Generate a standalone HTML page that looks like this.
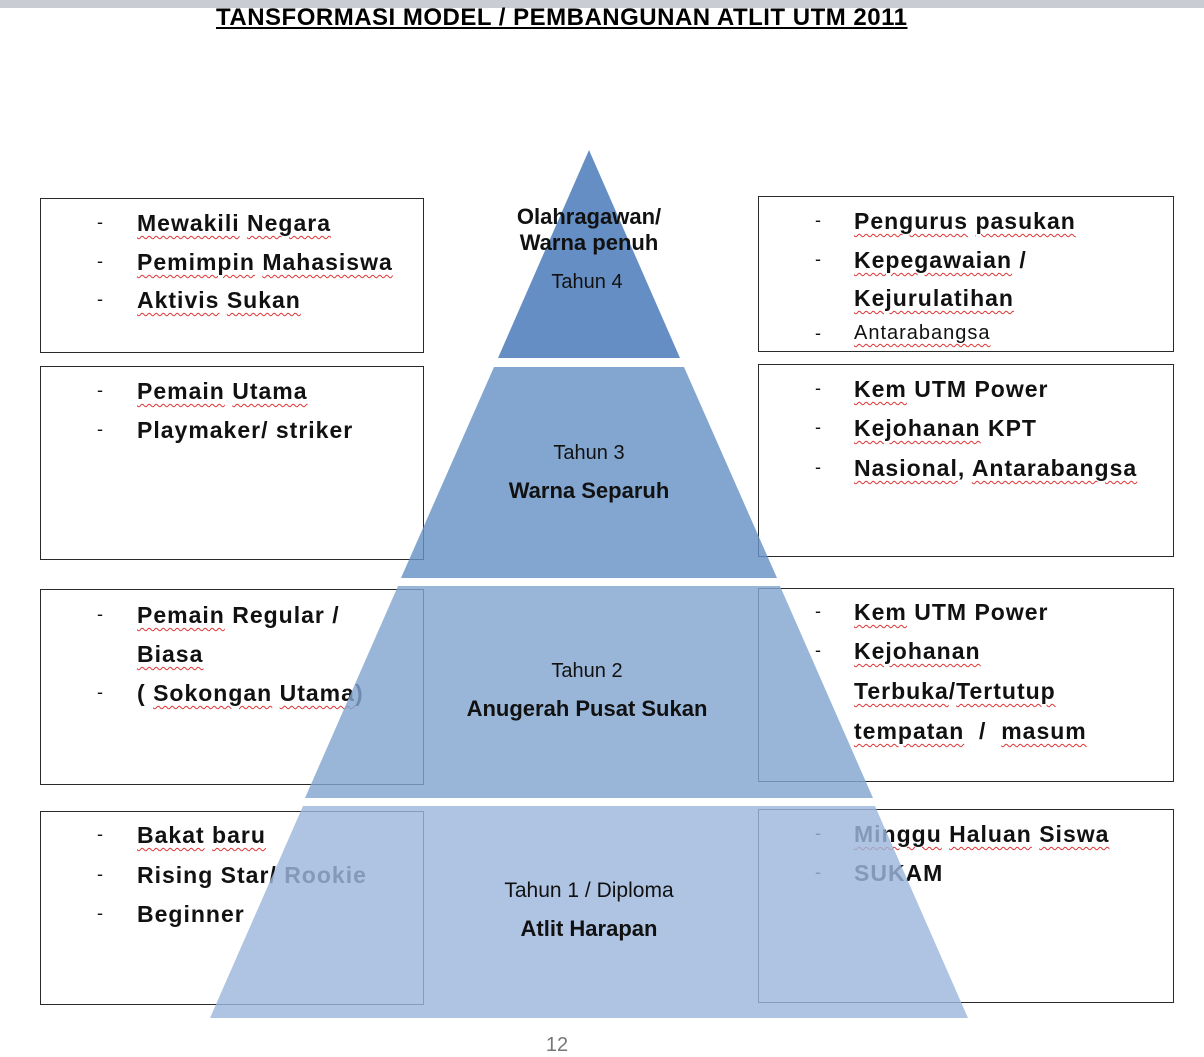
<!DOCTYPE html>
<html><head><style>
body{margin:0;width:1204px;height:1057px;background:#fff;position:relative;overflow:hidden;font-family:"Liberation Sans",sans-serif}
.bar{position:absolute;left:0;top:0;width:1204px;height:8px;background:#c9ccd2}
.title{position:absolute;left:216px;top:4px;font-size:24px;font-weight:bold;text-decoration:underline;letter-spacing:0.5px;line-height:28px}
.box{position:absolute;border:1.5px solid #2a2a2a;box-sizing:border-box}
.t{position:absolute;font-size:23px;letter-spacing:1px;font-weight:bold;white-space:nowrap;color:#111}
.t u{text-decoration:underline wavy #d33;text-decoration-thickness:1px;text-underline-offset:4px}
.d{position:absolute;font-size:18px;color:#111}
svg{position:absolute;left:0;top:0}
.c{position:absolute;text-align:center;width:400px;color:#111;white-space:nowrap}
</style></head><body>
<div class="bar"></div>
<div class="title">TANSFORMASI MODEL / PEMBANGUNAN ATLIT UTM 2011</div>

<div class="box" style="left:40px;top:198px;width:384px;height:155px"></div>
<div class="box" style="left:40px;top:366px;width:384px;height:194px"></div>
<div class="box" style="left:40px;top:589px;width:384px;height:196px"></div>
<div class="box" style="left:40px;top:811px;width:384px;height:194px"></div>
<div class="box" style="left:758px;top:196px;width:416px;height:156px"></div>
<div class="box" style="left:758px;top:364px;width:416px;height:193px"></div>
<div class="box" style="left:758px;top:588px;width:416px;height:194px"></div>
<div class="box" style="left:758px;top:809px;width:416px;height:194px"></div>

<div class="d" style="left:97px;top:212px">-</div><div class="t" style="left:137px;top:210px"><u>Mewakili</u> <u>Negara</u></div>
<div class="d" style="left:97px;top:251px">-</div><div class="t" style="left:137px;top:249px"><u>Pemimpin</u> <u>Mahasiswa</u></div>
<div class="d" style="left:97px;top:289px">-</div><div class="t" style="left:137px;top:287px"><u>Aktivis</u> <u>Sukan</u></div>
<div class="d" style="left:97px;top:380px">-</div><div class="t" style="left:137px;top:378px"><u>Pemain</u> <u>Utama</u></div>
<div class="d" style="left:97px;top:419px">-</div><div class="t" style="left:137px;top:417px">Playmaker/ striker</div>
<div class="d" style="left:97px;top:604px">-</div><div class="t" style="left:137px;top:602px"><u>Pemain</u> Regular /</div>
<div class="t" style="left:137px;top:641px"><u>Biasa</u></div>
<div class="d" style="left:97px;top:682px">-</div><div class="t" style="left:137px;top:680px">( <u>Sokongan</u> <u>Utama</u>)</div>
<div class="d" style="left:97px;top:824px">-</div><div class="t" style="left:137px;top:822px"><u>Bakat</u> <u>baru</u></div>
<div class="d" style="left:97px;top:864px">-</div><div class="t" style="left:137px;top:862px">Rising Star/ Rookie</div>
<div class="d" style="left:97px;top:903px">-</div><div class="t" style="left:137px;top:901px">Beginner</div>

<div class="d" style="left:815px;top:210px">-</div><div class="t" style="left:854px;top:208px"><u>Pengurus</u> <u>pasukan</u></div>
<div class="d" style="left:815px;top:249px">-</div><div class="t" style="left:854px;top:247px"><u>Kepegawaian</u> /</div>
<div class="t" style="left:854px;top:285px"><u>Kejurulatihan</u></div>
<div class="d" style="left:815px;top:323px">-</div><div class="t" style="left:854px;top:322px;font-weight:normal;font-size:20px"><u>Antarabangsa</u></div>
<div class="d" style="left:815px;top:378px">-</div><div class="t" style="left:854px;top:376px"><u>Kem</u> UTM Power</div>
<div class="d" style="left:815px;top:417px">-</div><div class="t" style="left:854px;top:415px"><u>Kejohanan</u> KPT</div>
<div class="d" style="left:815px;top:457px">-</div><div class="t" style="left:854px;top:455px"><u>Nasional</u>, <u>Antarabangsa</u></div>
<div class="d" style="left:815px;top:601px">-</div><div class="t" style="left:854px;top:599px"><u>Kem</u> UTM Power</div>
<div class="d" style="left:815px;top:640px">-</div><div class="t" style="left:854px;top:638px"><u>Kejohanan</u></div>
<div class="t" style="left:854px;top:678px"><u>Terbuka</u>/<u>Tertutup</u></div>
<div class="t" style="left:854px;top:718px"><u>tempatan</u> &nbsp;/ &nbsp;<u>masum</u></div>
<div class="d" style="left:815px;top:823px">-</div><div class="t" style="left:854px;top:821px"><u>Minggu</u> <u>Haluan</u> <u>Siswa</u></div>
<div class="d" style="left:815px;top:862px">-</div><div class="t" style="left:854px;top:860px">SUKAM</div>

<svg width="1204" height="1057">
<polygon points="589,150 680,358 498,358" fill="#4a7bba" fill-opacity="0.85"/>
<polygon points="494,367 684,367 777,578 401,578" fill="#6893c6" fill-opacity="0.82"/>
<polygon points="398,586 780,586 873,798 305,798" fill="#82a6d1" fill-opacity="0.82"/>
<polygon points="303,806 875,806 968,1018 210,1018" fill="#9cb7dc" fill-opacity="0.82"/>
</svg>

<div class="c" style="left:389px;top:204px;font-size:22px;font-weight:bold;line-height:26px">Olahragawan/<br>Warna penuh</div>
<div class="c" style="left:387px;top:271px;font-size:20px">Tahun 4</div>
<div class="c" style="left:389px;top:442px;font-size:20px">Tahun 3</div>
<div class="c" style="left:389px;top:478px;font-size:22px;font-weight:bold">Warna Separuh</div>
<div class="c" style="left:387px;top:660px;font-size:20px">Tahun 2</div>
<div class="c" style="left:387px;top:696px;font-size:22px;font-weight:bold">Anugerah Pusat Sukan</div>
<div class="c" style="left:389px;top:879px;font-size:21px">Tahun 1 / Diploma</div>
<div class="c" style="left:389px;top:916px;font-size:22px;font-weight:bold">Atlit Harapan</div>
<div class="c" style="left:357px;top:1034px;font-size:20px;color:#777">12</div>
</body></html>
